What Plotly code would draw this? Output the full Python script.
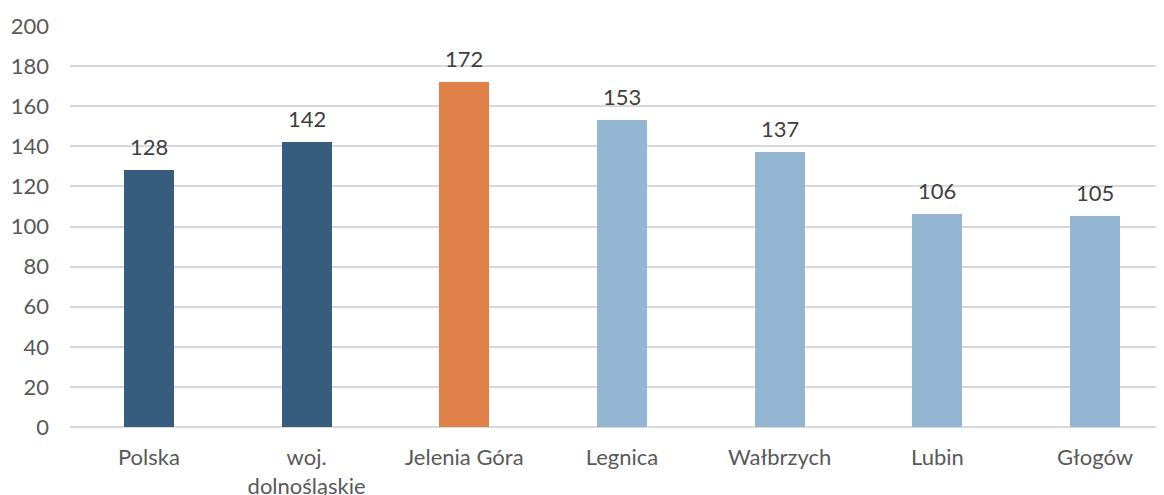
import plotly.graph_objects as go

# data
categories = ["Polska", "woj.<br>dolnośląskie", "Jelenia Góra", "Legnica", "Wałbrzych", "Lubin", "Głogów"]
values = [128, 142, 172, 153, 137, 106, 105]
bar_colors = ["#365D7E", "#365D7E", "#DE8047", "#94B6D2", "#94B6D2", "#94B6D2", "#94B6D2"]
y_ticks = [0, 20, 40, 60, 80, 100, 120, 140, 160, 180, 200]

FONT = "Lato, Open Sans, sans-serif"
TEXT_COLOR = "#595959"
LABEL_COLOR = "#404040"

xs = list(range(len(categories)))

fig = go.Figure()

fig.add_trace(go.Bar(
    x=xs,
    y=values,
    marker=dict(color=bar_colors, line=dict(width=0)),
    width=0.317,
    hoverinfo="y",
))

# value labels above bars (annotations so the gap can be set)
for x, v in zip(xs, values):
    fig.add_annotation(
        x=x, y=v, text=str(v),
        showarrow=False,
        yanchor="bottom",
        yshift=8,
        font=dict(family=FONT, size=22, color=LABEL_COLOR),
    )

# page body has an 8px margin, so size/margins are shifted by that
fig.update_layout(
    width=1156,
    height=487,
    margin=dict(l=62, r=0, t=18, b=68, autoexpand=False),
    paper_bgcolor="white",
    plot_bgcolor="white",
    showlegend=False,
    bargap=0,
    font=dict(family=FONT, size=22, color=TEXT_COLOR),
)

fig.update_xaxes(
    tickmode="array",
    tickvals=xs,
    ticktext=categories,
    range=[-0.5, 6.437],
    showgrid=False,
    showline=False,
    zeroline=False,
    ticks="",
    automargin=False,
    ticklabelstandoff=15,
    tickfont=dict(family=FONT, size=22, color=TEXT_COLOR),
)

fig.update_yaxes(
    range=[0, 200],
    tickvals=y_ticks,
    showgrid=True,
    gridcolor="#D9D9D9",
    gridwidth=1.5,
    zeroline=True,
    zerolinecolor="#D9D9D9",
    zerolinewidth=1.5,
    showline=False,
    ticks="",
    automargin=False,
    ticklabelstandoff=20,
    tickfont=dict(family=FONT, size=22, color=TEXT_COLOR),
)

fig.write_html("out.html")
